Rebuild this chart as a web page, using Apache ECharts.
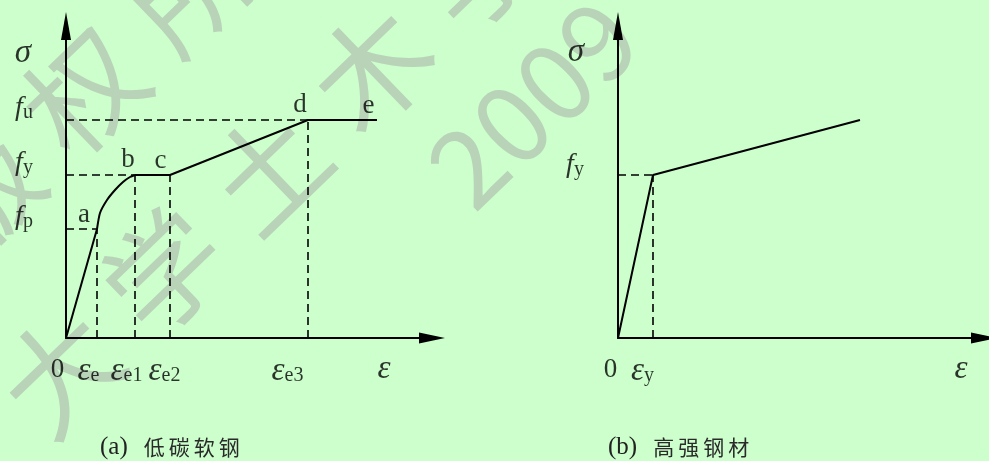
<!DOCTYPE html>
<html>
<head>
<meta charset="utf-8">
<script src="https://cdn.jsdelivr.net/npm/echarts@6/dist/echarts.min.js"></script>
<style>
  html, body { margin: 0; padding: 0; background: #ccffcc; }
  #chart { width: 989px; height: 461px; }
</style>
</head>
<body>
<div id="chart"></div>
<script>
// Schematic stress–strain diagrams of steel, in arbitrary units.

// (a) mild steel: strain marks ε_e, ε_e1, ε_e2, ε_e3 and the end of the curve
const mildStrain = [31, 69, 104, 242, 311];
// stress levels f_p, f_y, f_u
const mildStress = [109, 163, 218];
// elastic branch 0 → a
const mildElastic = [[0, 0], [31, 109]];
// elasto-plastic branch a → b
const mildTransition = [[31, 109], [34, 125], [41, 138], [49, 148], [57, 156], [64, 161], [69, 163]];
// yield plateau b → c, hardening c → d, necking d → e
const mildPlastic = [[69, 163], [104, 163], [242, 218], [311, 218]];

// (b) high-strength steel
const hsStrain = [35];        // ε_y
const hsStress = [163];       // f_y
const hsCurve = [[0, 0], [35, 163], [242, 218]];

// axis extents
const xMax = 366;
const yMax = 312;

// tick and point labels (rich-text markup)
const mildStressLabels = ['{f|f}{s|p}', '{f|f}{s|y}', '{f|f}{s|u}'];
const mildStrainLabels = ['{g|ε}{s|e}', '{g|ε}{s|e1}', '{g|ε}{s|e2}', '{g|ε}{s|e3}'];
const mildPointNames = ['a', 'b', 'c', 'd', 'e'];
const hsStressLabels = ['{f|f}{s|y}'];
const hsStrainLabels = ['{g|ε}{s|y}'];

const SERIF = '"Liberation Serif", "Times New Roman", serif';
const rich = {
  f: { fontFamily: SERIF, fontStyle: 'italic', fontSize: 28, color: '#000' },
  g: { fontFamily: SERIF, fontStyle: 'italic', fontSize: 33, color: '#000' },
  r: { fontFamily: SERIF, fontSize: 27, color: '#000' },
  s: { fontFamily: SERIF, fontSize: 20, color: '#000', padding: [9, 0, 0, 0] }
};

function labelItem(x, y, text, dx, dy) {
  return { value: [x, y], text: text, label: { offset: [dx, dy] } };
}

function labelSeries(gridIdx, items) {
  return {
    type: 'scatter', xAxisIndex: gridIdx, yAxisIndex: gridIdx,
    symbolSize: 0, clip: false, silent: true, z: 5,
    label: {
      show: true, position: 'inside', align: 'center', verticalAlign: 'middle',
      formatter: p => p.data.text, rich: rich
    },
    data: items
  };
}

function solid(gridIdx, data, smooth) {
  return {
    type: 'line', xAxisIndex: gridIdx, yAxisIndex: gridIdx, data: data,
    symbol: 'none', smooth: smooth || false, silent: true, z: 3,
    lineStyle: { color: '#000', width: 2 }
  };
}

function dashed(gridIdx, p0, p1) {
  return {
    type: 'line', xAxisIndex: gridIdx, yAxisIndex: gridIdx, data: [p0, p1],
    symbol: 'none', silent: true, z: 2,
    lineStyle: { color: '#000', width: 1.6, type: [8, 5] }
  };
}

const [eE, eE1, eE2, eE3, eEnd] = mildStrain;
const [fP, fY, fU] = mildStress;

const series = [
  solid(0, mildElastic),
  solid(0, mildTransition, 0.2),
  solid(0, mildPlastic),
  // guide lines to the axes
  dashed(0, [0, fP], [eE, fP]),
  dashed(0, [0, fY], [eE1, fY]),
  dashed(0, [0, fU], [eE3, fU]),
  dashed(0, [eE, 0], [eE, fP]),
  dashed(0, [eE1, 0], [eE1, fY]),
  dashed(0, [eE2, 0], [eE2, fY]),
  dashed(0, [eE3, 0], [eE3, fU]),
  solid(1, hsCurve),
  dashed(1, [0, hsStress[0]], [hsStrain[0], hsStress[0]]),
  dashed(1, [hsStrain[0], 0], [hsStrain[0], hsStress[0]]),
  labelSeries(0, [
    labelItem(0, yMax, '{g|σ}', -43, 27),
    labelItem(0, fP, mildStressLabels[0], -42, -12),
    labelItem(0, fY, mildStressLabels[1], -42, -12),
    labelItem(0, fU, mildStressLabels[2], -42, -12),
    labelItem(eE, fP, '{r|' + mildPointNames[0] + '}', -13, -14),
    labelItem(eE1, fY, '{r|' + mildPointNames[1] + '}', -7, -15),
    labelItem(eE2, fY, '{r|' + mildPointNames[2] + '}', -9.5, -14),
    labelItem(eE3, fU, '{r|' + mildPointNames[3] + '}', -8, -15),
    labelItem(eEnd, fU, '{r|' + mildPointNames[4] + '}', -8.5, -14),
    labelItem(0, 0, '{r|0}', -8.5, 32),
    labelItem(eE, 0, mildStrainLabels[0], -8.5, 33),
    labelItem(eE1, 0, mildStrainLabels[1], -8.5, 33),
    labelItem(eE2, 0, mildStrainLabels[2], -5.5, 33),
    labelItem(eE3, 0, mildStrainLabels[3], -20.5, 33),
    labelItem(xMax, 0, '{g|ε}', -48, 31)
  ]),
  labelSeries(1, [
    labelItem(0, yMax, '{g|σ}', -42, 26),
    labelItem(0, hsStress[0], hsStressLabels[0], -43, -10),
    labelItem(0, 0, '{r|0}', -7.5, 32),
    labelItem(hsStrain[0], 0, hsStrainLabels[0], -10.5, 33),
    labelItem(xMax, 0, '{g|ε}', -23, 31)
  ])
];

function axisX(gridIdx) {
  return {
    type: 'value', gridIndex: gridIdx, min: 0, max: xMax,
    axisLine: { show: true, onZero: false, symbol: ['none', 'triangle'], symbolSize: [11, 26],
      lineStyle: { color: '#000', width: 2 } },
    axisTick: { show: false }, axisLabel: { show: false }, splitLine: { show: false }
  };
}
function axisY(gridIdx) {
  return {
    type: 'value', gridIndex: gridIdx, min: 0, max: yMax,
    axisLine: { show: true, onZero: false, symbol: ['none', 'triangle'], symbolSize: [10, 28],
      lineStyle: { color: '#000', width: 2 } },
    axisTick: { show: false }, axisLabel: { show: false }, splitLine: { show: false }
  };
}

// faint background lettering, laid out one glyph at a time along a slanted line
const markFont = 'normal 116px "Noto Sans CJK SC", sans-serif';
const markRot = 44 * Math.PI / 180;
const markStep = [104, -101];
function markLine(text, x0, y0) {
  return Array.from(text).map((ch, i) => ({
    type: 'text', x: x0 + i * markStep[0], y: y0 + i * markStep[1], rotation: markRot, z: -1, silent: true,
    style: { text: ch, font: markFont, fill: '#b9d3b9', align: 'center', verticalAlign: 'middle' }
  }));
}
const markGraphics = [].concat(
  markLine('版权所有', -20, 192),
  markLine('大学土木学院', 60, 372),
  [{
    type: 'text', x: 532, y: 102, rotation: markRot, z: -1, silent: true,
    style: { text: '2009', font: 'normal 108px "Noto Sans CJK SC", sans-serif', fill: '#b9d3b9',
      align: 'center', verticalAlign: 'middle' }
  }]
);

const captionRich = {
  p: { fontFamily: SERIF, fontSize: 25, fontWeight: 'normal', color: '#222', padding: [0, 16, 0, 0] },
  c: { fontFamily: '"Noto Sans CJK SC", sans-serif', fontSize: 21, fontWeight: 'normal', color: '#2a2a2a', padding: [0, 4, 0, 0] }
};

const chart = echarts.init(document.getElementById('chart'), null, { renderer: 'canvas' });
chart.setOption({
  backgroundColor: '#ccffcc',
  animation: false,
  title: [
    { text: '{p|(a)}{c|低}{c|碳}{c|软}{c|钢}', left: 100, top: 435, padding: 0,
      textStyle: { fontWeight: 'normal', rich: captionRich } },
    { text: '{p|(b)}{c|高}{c|强}{c|钢}{c|材}', left: 608, top: 435, padding: 0,
      textStyle: { fontWeight: 'normal', rich: captionRich } }
  ],
  graphic: markGraphics,
  grid: [
    { left: 66, top: 26, width: xMax, height: yMax },
    { left: 618, top: 26, width: xMax, height: yMax }
  ],
  xAxis: [axisX(0), axisX(1)],
  yAxis: [axisY(0), axisY(1)],
  series: series
});
</script>
</body>
</html>
